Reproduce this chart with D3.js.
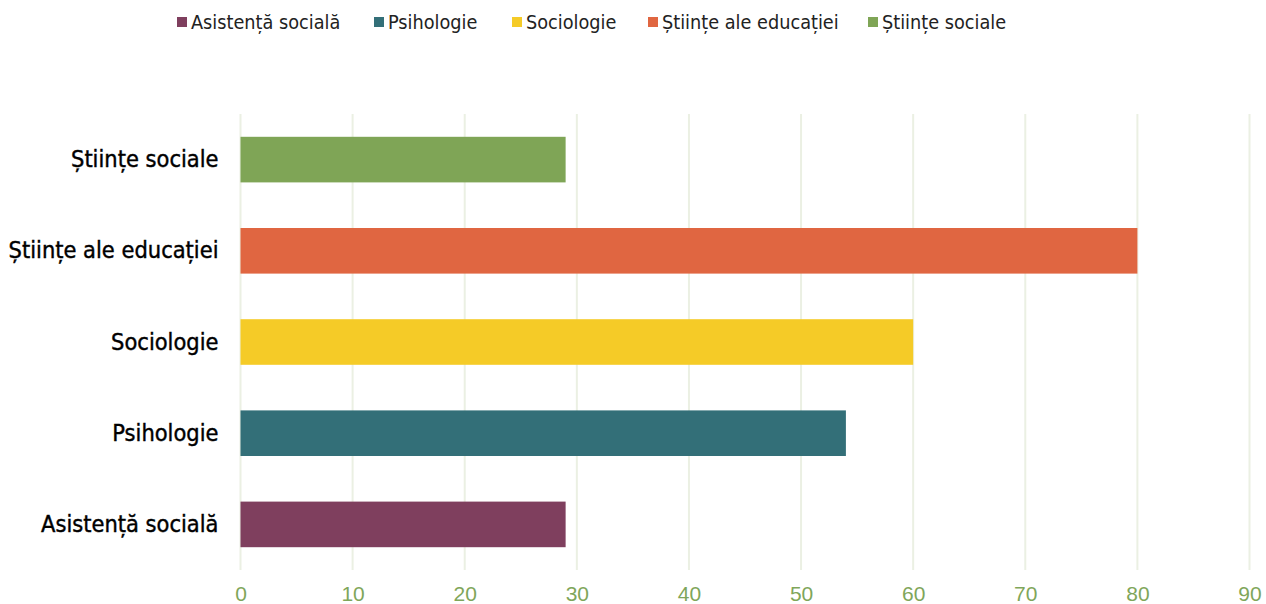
<!DOCTYPE html>
<html>
<head>
<meta charset="utf-8">
<script src="https://cdn.jsdelivr.net/npm/d3@7"></script>
<style>
  html, body { margin: 0; padding: 0; background: #fff; }
  svg { display: block; }
</style>
</head>
<body>
<svg id="chart" width="1266" height="604"></svg>
<script>
const categories = ["Asistență socială", "Psihologie", "Sociologie", "Științe ale educației", "Științe sociale"];
const values = [29, 54, 60, 80, 29];
const colors = ["#7f3f5e", "#336f78", "#f5cb27", "#e06641", "#7fa556"];
const xTicks = [0, 10, 20, 30, 40, 50, 60, 70, 80, 90];

const svg = d3.select("#chart");
const margin = { left: 240.5, top: 114, bottom: 34 };
const W = 1266, H = 604;

const x = d3.scaleLinear().domain([0, 90]).range([margin.left, 1249.5]);
const y = d3.scaleBand().domain(categories.slice().reverse()).range([margin.top, H - margin.bottom]).paddingInner(0.5).paddingOuter(0.25);

// gridlines
svg.append("g").selectAll("line").data(xTicks).join("line")
  .attr("x1", d => x(d)).attr("x2", d => x(d))
  .attr("y1", margin.top).attr("y2", H - margin.bottom)
  .attr("stroke", "#ebf0e3").attr("stroke-width", 2);

// bars
svg.append("g").selectAll("rect").data(categories).join("rect")
  .attr("x", x(0))
  .attr("y", d => y(d))
  .attr("width", (d, i) => x(values[i]) - x(0))
  .attr("height", y.bandwidth())
  .attr("fill", (d, i) => colors[i]);

// x axis
const xAxis = d3.axisBottom(x).tickValues(xTicks).tickSize(0).tickPadding(0);
const gx = svg.append("g").attr("transform", `translate(0, ${H - margin.bottom})`).call(xAxis);
gx.select(".domain").remove();
gx.selectAll("text").attr("dy", null).attr("y", 31)
  .attr("fill", "#7fa65a").style("font-family", "'Liberation Sans', Arial, sans-serif").style("font-size", "21px");

// y axis
const yAxis = d3.axisLeft(y).tickSize(0).tickPadding(22);
const gy = svg.append("g").attr("transform", `translate(${x(0)}, 0)`).call(yAxis);
gy.select(".domain").remove();
gy.selectAll("text").attr("fill", "#000").attr("stroke", "#000").attr("stroke-width", 0.4)
  .style("font-family", "'DejaVu Sans Condensed', sans-serif").style("font-size", "23.4px");

// legend
const legendX = [177, 374, 512, 648, 868];
const lg = svg.append("g").selectAll("g").data(categories).join("g")
  .attr("transform", (d, i) => `translate(${legendX[i]}, 22)`);
lg.append("rect").attr("x", 0).attr("y", -5).attr("width", 10).attr("height", 10).attr("fill", (d, i) => colors[i]);
lg.append("text").attr("x", 14).attr("y", 0).attr("dy", "0.35em")
  .attr("fill", "#222")
  .style("font-family", "'DejaVu Sans Condensed', sans-serif").style("font-size", "19.7px")
  .text(d => d);
</script>
</body>
</html>
